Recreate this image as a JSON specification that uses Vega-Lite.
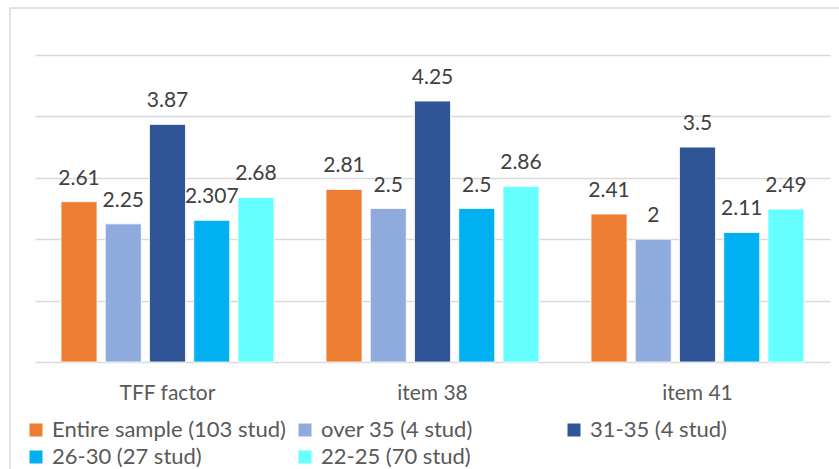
{
  "$schema": "https://vega.github.io/schema/vega-lite/v6.json",
  "width": 835,
  "height": 465,
  "autosize": {"type": "none"},
  "padding": {"left": 10, "top": 8, "right": 0, "bottom": 0},
  "background": "white",
  "config": {
    "view": {"stroke": "#d9d9d9", "strokeWidth": 1.5},
    "font": "Lato"
  },
  "data": {
    "values": [
      {"item": "TFF factor", "group": "Entire sample (103 stud)", "score": 2.61},
      {"item": "TFF factor", "group": "over 35 (4 stud)", "score": 2.25},
      {"item": "TFF factor", "group": "31-35 (4 stud)", "score": 3.87},
      {"item": "TFF factor", "group": "26-30 (27 stud)", "score": 2.307},
      {"item": "TFF factor", "group": "22-25 (70 stud)", "score": 2.68},
      {"item": "item 38", "group": "Entire sample (103 stud)", "score": 2.81},
      {"item": "item 38", "group": "over 35 (4 stud)", "score": 2.5},
      {"item": "item 38", "group": "31-35 (4 stud)", "score": 4.25},
      {"item": "item 38", "group": "26-30 (27 stud)", "score": 2.5},
      {"item": "item 38", "group": "22-25 (70 stud)", "score": 2.86},
      {"item": "item 41", "group": "Entire sample (103 stud)", "score": 2.41},
      {"item": "item 41", "group": "over 35 (4 stud)", "score": 2},
      {"item": "item 41", "group": "31-35 (4 stud)", "score": 3.5},
      {"item": "item 41", "group": "26-30 (27 stud)", "score": 2.11},
      {"item": "item 41", "group": "22-25 (70 stud)", "score": 2.49}
    ]
  },
  "encoding": {
    "x": {
      "field": "item",
      "type": "nominal",
      "sort": null,
      "scale": {"range": [25, 820], "paddingInner": 0, "paddingOuter": 0},
      "axis": {
        "title": null,
        "orient": "bottom",
        "offset": -111,
        "domain": false,
        "ticks": false,
        "tickSize": 0,
        "labelPadding": 20,
        "labelAngle": 0,
        "labelFont": "Lato",
        "labelFontSize": 21,
        "labelColor": "#595959"
      }
    },
    "xOffset": {
      "field": "group",
      "type": "nominal",
      "sort": null,
      "scale": {"paddingInner": 0.186, "paddingOuter": 0.588}
    },
    "y": {
      "field": "score",
      "type": "quantitative",
      "scale": {"domain": [0, 5], "range": [354, 47], "nice": false},
      "axis": {
        "title": null,
        "values": [0, 1, 2, 3, 4, 5],
        "labels": false,
        "ticks": false,
        "domain": false,
        "grid": true,
        "gridColor": "#d9d9d9",
        "gridWidth": 1.5
      }
    }
  },
  "layer": [
    {
      "mark": {"type": "bar", "stroke": "white", "strokeWidth": 0.8},
      "encoding": {
        "color": {
          "field": "group",
          "type": "nominal",
          "sort": null,
          "scale": {
            "domain": ["Entire sample (103 stud)", "over 35 (4 stud)", "31-35 (4 stud)", "26-30 (27 stud)", "22-25 (70 stud)"],
            "range": ["#ED7D31", "#8FAADC", "#2F5597", "#00B0F0", "#66FFFF"]
          },
          "legend": {
            "title": null,
            "orient": "none",
            "legendX": 15,
            "legendY": 411,
            "direction": "horizontal",
            "columns": 3,
            "gridAlign": "all",
            "columnPadding": 8,
            "rowPadding": 5,
            "symbolType": "square",
            "symbolSize": 169,
            "symbolStrokeWidth": 0,
            "symbolOpacity": 1,
            "labelOffset": 5,
            "labelFont": "Lato",
            "labelFontSize": 22,
            "labelColor": "#595959",
            "labelLimit": 400
          }
        }
      }
    },
    {
      "mark": {
        "type": "text",
        "baseline": "alphabetic",
        "dy": -17,
        "font": "Lato",
        "fontSize": 21,
        "color": "#404040"
      },
      "encoding": {
        "text": {"field": "score", "type": "quantitative", "format": "~g"}
      }
    }
  ]
}
